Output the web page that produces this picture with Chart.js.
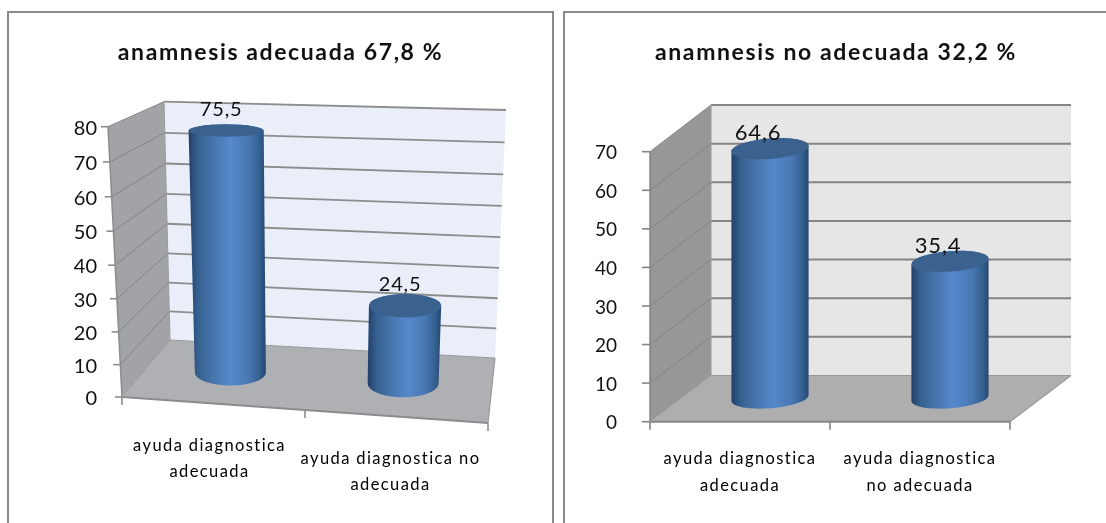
<!DOCTYPE html>
<html><head><meta charset="utf-8">
<style>
html,body{margin:0;padding:0;background:#fff;width:1106px;height:523px;overflow:hidden}
.frame{position:absolute;top:11px;height:520px;border:2px solid #8a8a8a;box-sizing:border-box}
canvas{position:absolute;top:0}
</style>
<script src="https://cdn.jsdelivr.net/npm/chart.js@4"></script>
</head><body>
<div class="frame" style="left:7px;width:547px"></div>
<div class="frame" style="left:563px;width:560px"></div>
<div style="position:absolute;left:0;top:0;width:561px;height:523px"><canvas id="a"></canvas></div>
<div style="position:absolute;left:564px;top:0;width:544px;height:523px"><canvas id="b"></canvas></div>
<script>
const titleA = 'anamnesis adecuada 67,8 %';
const titleB = 'anamnesis no adecuada 32,2 %';
const categoriesA = [['ayuda diagnostica','adecuada'],['ayuda diagnostica no','adecuada']];
const categoriesB = [['ayuda diagnostica','adecuada'],['ayuda diagnostica','no adecuada']];
const valuesA = [75.5, 24.5];
const valuesB = [64.6, 35.4];
const maxA = 80, maxB = 70, stepSize = 10;

const FONT = 'Lato, Carlito, sans-serif';
// 3D box corners per canvas (front/back, top/bottom, left/right) and styling
const VIEW = {
  a:{fTL:[108,126.7],fTR:[501,140],fBL:[122,397],fBR:[488,423],
     bTL:[164,101.7],bTR:[506,110],bBL:[170,340],bBR:[495,358],
     warp:1.05,tilt:0,back:'#e9eef8',wall:'#a1a3a6',floor:'#aeb0b3',grid:'#8c8c8c',gw:1.8,
     tick:[-7,0],labelOffset:[-5,-15],labelFont:20,barShift:[-2,-1.5],labelShift:[[-4,0],[-6,0]],ryK:.22},
  b:{fTL:[86,151.7],fTR:[446,151.7],fBL:[86,421.7],fBR:[446,421.7],
     bTL:[147,105],bTR:[507,105],bBL:[147,375.5],bBR:[507,375.5],
     warp:1,tilt:-4.5*Math.PI/180,back:'#e6e6e6',wall:'#979797',floor:'#aeaeae',grid:'#858585',gw:2,
     tick:[-8,0],labelOffset:[-12,-8.5],labelFont:22,barShift:[-.5,-.5],labelShift:[[0,0],[0,0]],ryK:.22}
};
const lerp=(p,q,t)=>[p[0]+(q[0]-p[0])*t,p[1]+(q[1]-p[1])*t];
function corner(v,u,t,d){
  const front=lerp(lerp(v.fBL,v.fBR,u),lerp(v.fTL,v.fTR,u),t);
  const back=lerp(lerp(v.bBL,v.bBR,u),lerp(v.bTL,v.bTR,u),t);
  return lerp(front,back,d);
}
// Maps a category-axis fraction, a data value and a depth through the chart's own scales
function project(chart,u,val,d){
  const v=VIEW[chart.canvas.id],y=chart.scales.y;
  const t=(y.bottom-y.getPixelForValue(val))/(y.bottom-y.top);
  return corner(v,u,t,d);
}
class PerspectiveLinear extends Chart.LinearScale{
  static id='perspectiveLinear';
  static defaults=Chart.LinearScale.defaults;
  getPixelForValue(value){
    const a=VIEW[this.chart.canvas.id].warp;
    const d=(value-this._startValue)/this._valueRange;
    return this.getPixelForDecimal(d/(a-(a-1)*d));
  }
}
class SlantCategory extends Chart.CategoryScale{
  static id='slantCategory';
  static defaults=Chart.CategoryScale.defaults;
  _computeLabelItems(area){
    const items=super._computeLabelItems(area);
    const chart=this.chart,s=VIEW[chart.canvas.id].labelShift;
    items.forEach((it,i)=>{const tr=it.options.translation;
      const u=(this.getPixelForValue(i)-this.left)/this.width;
      const drop=project(chart,u,0,0)[1]-this.top;
      it.options.translation=[tr[0]+s[i][0],tr[1]+s[i][1]+drop];});
    return items;
  }
  drawLabels(area){
    this.ctx.save();this.ctx.letterSpacing='1.4px';
    super.drawLabels(area);
    this.ctx.restore();
  }
}
class CylinderController extends Chart.BarController{
  static id='cylinder';
  static defaults=Chart.BarController.defaults;
  static overrides=Chart.BarController.overrides;
  draw(){
    const chart=this.chart,ctx=chart.ctx,v=VIEW[chart.canvas.id];
    const meta=this.getMeta(),xs=chart.scales.x;
    const labels=[];
    meta.data.forEach((el,i)=>{
      const value=this.getParsed(i).y;
      const u=(xs.getPixelForValue(i)-xs.left)/xs.width;
      const frac=el.width/(xs.width/2);
      const widthAt=val=>{
        const p=project(chart,u-frac/4,val,.5),q=project(chart,u+frac/4,val,.5);
        return Math.hypot(q[0]-p[0],q[1]-p[1])/2;
      };
      const radiusY=val=>{
        const p=project(chart,u,val,.05),q=project(chart,u,val,.95);
        return Math.abs(p[1]-q[1])*v.ryK/.9;
      };
      const sh=v.barShift;
      const t0=project(chart,u,value,.5),b0=project(chart,u,0,.5);
      const T=[t0[0]+sh[0],t0[1]+sh[1]],B=[b0[0]+sh[0],b0[1]+sh[1]];
      const rT=widthAt(value),rB=widthAt(0),ryT=radiusY(value),ryB=radiusY(0);
      const x0=Math.min(T[0]-rT,B[0]-rB),x1=Math.max(T[0]+rT,B[0]+rB);
      const g=ctx.createLinearGradient(x0,0,x1,0);
      g.addColorStop(0,'#223f69');g.addColorStop(.12,'#35608f');g.addColorStop(.3,'#4673ab');
      g.addColorStop(.55,'#5589cc');g.addColorStop(.78,'#4877b2');g.addColorStop(.92,'#34608f');g.addColorStop(1,'#254670');
      ctx.save();
      ctx.beginPath();
      ctx.ellipse(T[0],T[1],rT,ryT,v.tilt,Math.PI,2*Math.PI);
      ctx.ellipse(B[0],B[1],rB,ryB,v.tilt,0,Math.PI);
      ctx.closePath();
      ctx.fillStyle=g;ctx.fill();
      ctx.beginPath();
      ctx.ellipse(T[0],T[1],rT,ryT,v.tilt,0,2*Math.PI);
      ctx.fillStyle='#3b618f';ctx.fill();
      ctx.restore();
      labels.push([String(value).replace('.',','),T[0]+v.labelOffset[0],T[1]+v.labelOffset[1]]);
    });
    ctx.save();
    ctx.font=v.labelFont+'px '+FONT;ctx.letterSpacing='0.8px';ctx.fillStyle='#111';
    ctx.textAlign='center';ctx.textBaseline='alphabetic';
    labels.forEach(l=>ctx.fillText(l[0],l[1],l[2]));
    ctx.restore();
  }
}
const box3d={
  id:'box3d',
  beforeDraw(chart){
    // centre the title on the whole panel and widen its tracking
    const tb=chart.titleBlock;
    tb.left=0;tb.right=chart.width;
    if(!tb._tracked){
      const draw=tb.draw;
      tb.draw=function(...a){const c=this.ctx;c.save();c.letterSpacing='1.6px';draw.apply(this,a);c.restore();};
      tb._tracked=true;
    }
  },
  beforeDatasetsDraw(chart){
    const ctx=chart.ctx,v=VIEW[chart.canvas.id],y=chart.scales.y;
    const top=y.max;
    const P=(u,val,d)=>project(chart,u,val,d);
    const poly=(pts,fill)=>{ctx.beginPath();pts.forEach((p,i)=>i?ctx.lineTo(p[0],p[1]):ctx.moveTo(p[0],p[1]));ctx.closePath();ctx.fillStyle=fill;ctx.fill();};
    const line=(p,q,w,c)=>{ctx.beginPath();ctx.moveTo(p[0],p[1]);ctx.lineTo(q[0],q[1]);ctx.lineWidth=w;ctx.strokeStyle=c||v.grid;ctx.stroke();};
    ctx.save();
    poly([P(0,0,1),P(1,0,1),P(1,top,1),P(0,top,1)],v.back);
    poly([P(0,0,0),P(0,top,0),P(0,top,1),P(0,0,1)],v.wall);
    poly([P(0,0,0),P(1,0,0),P(1,0,1),P(0,0,1)],v.floor);
    y.ticks.forEach(t=>{
      if(t.value>0){
        line(P(0,t.value,1),P(1,t.value,1),v.gw);
        line(P(0,t.value,0),P(0,t.value,1),1,'#828486');
      }
      const p=P(0,t.value,0);
      line(p,[p[0]+v.tick[0],p[1]+v.tick[1]],1.6);
    });
    line(P(0,0,0),P(0,top,0),1.5);
    line(P(0,0,0),P(1,0,0),2);
    line(P(1,0,0),P(1,0,1),1.2,'#989a9c');
    line(P(0,0,0),P(0,0,1),1,'#989a9c');
    line(P(0,0,1),P(1,0,1),1,'#989a9c');
    line(P(0,0,1),P(0,top,1),1,'#989a9c');
    [0,.5,1].forEach(u=>{const p=P(u,0,0);line(p,[p[0],p[1]+8],1.6);});
    ctx.restore();
  }
};
Chart.register(PerspectiveLinear,SlantCategory,CylinderController);

function makeChart(id,title,categories,values,max,geom){
  new Chart(document.getElementById(id),{
    type:'cylinder',
    data:{labels:categories,datasets:[{data:values,backgroundColor:'#4f81bd',clip:false,
      categoryPercentage:1,barPercentage:geom.bar}]},
    plugins:[box3d],
    options:{
      responsive:true,maintainAspectRatio:false,animation:false,
      layout:{padding:{left:0,right:geom.right,top:0,bottom:0}},
      plugins:{
        legend:{display:false},tooltip:{enabled:false},
        title:{display:true,text:title,color:'#111',
          font:{family:FONT,size:23,weight:'bold',lineHeight:1},
          padding:{top:geom.titleTop,bottom:geom.top-geom.titleTop-23}}
      },
      scales:{
        x:{type:'slantCategory',offset:true,grid:{display:false},border:{display:false},
          afterFit(s){s.height=geom.xh;},
          ticks:{autoSkip:false,maxRotation:0,minRotation:0,padding:geom.xpad,color:'#000',
            font:{family:FONT,size:16.5,lineHeight:1.6}}},
        y:{type:'perspectiveLinear',min:0,max:max,grid:{display:false},border:{display:false},
          afterFit(s){s.width=geom.yw;},
          ticks:{stepSize:stepSize,padding:geom.ypad,color:'#111',labelOffset:1.5,
            font:{family:FONT,size:geom.yfont}}}
      }
    }
  });
}
makeChart('a',titleA,categoriesA,valuesA,maxA,{bar:.41,right:73,top:126.7,titleTop:41,xh:126,xpad:21,yw:122,ypad:17,yfont:20});
makeChart('b',titleB,categoriesB,valuesB,maxB,{bar:.43,right:98,top:151.7,titleTop:41,xh:101.3,xpad:16,yw:86,ypad:25,yfont:19});
</script>
</body></html>
